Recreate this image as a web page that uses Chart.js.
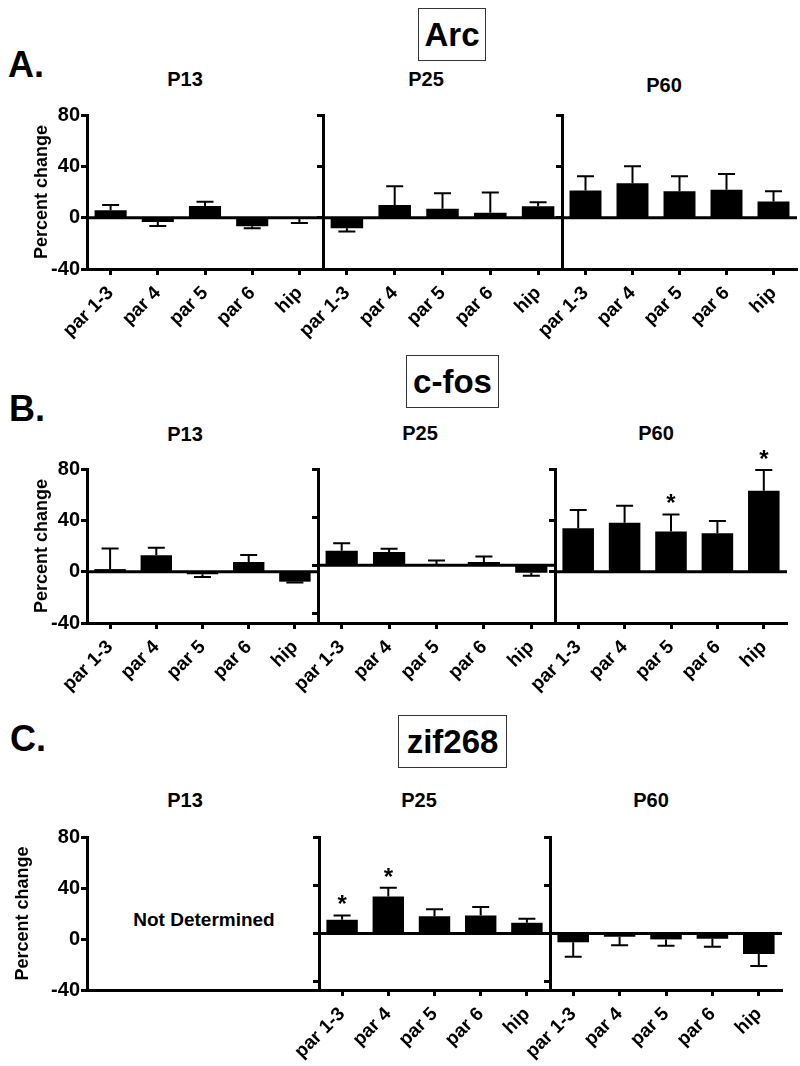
<!DOCTYPE html>
<html>
<head>
<meta charset="utf-8">
<script src="https://cdn.jsdelivr.net/npm/chart.js@4.4.1/dist/chart.umd.min.js"></script>
<style>
  body { margin: 0; background: #fff; }
  #fig { position: relative; width: 800px; height: 1066px; font-family: "Liberation Sans", Arial, sans-serif; font-weight: bold; color: #000; overflow: hidden; }
  .lbl { position: absolute; transform: translate(-50%, -50%); line-height: 1; white-space: nowrap; }
  .gene { position: absolute; border: 1px solid #333; box-sizing: border-box; display: flex; align-items: center; justify-content: center; font-size: 33px; line-height: 1; }
  canvas { position: absolute; }
</style>
</head>
<body>
<div id="fig">
  <div class="lbl" style="left:26px;top:65px;font-size:36px">A.</div>
  <div class="lbl" style="left:27px;top:409px;font-size:36px">B.</div>
  <div class="lbl" style="left:28px;top:739px;font-size:36px">C.</div>

  <div class="gene" style="left:418px;top:8px;width:68px;height:53px">Arc</div>
  <div class="gene" style="left:406px;top:355px;width:93px;height:53px">c-fos</div>
  <div class="gene" style="left:398px;top:715px;width:109px;height:53px">zif268</div>

  <div class="lbl" style="left:185px;top:79px;font-size:20px">P13</div>
  <div class="lbl" style="left:426px;top:79px;font-size:20px">P25</div>
  <div class="lbl" style="left:664px;top:85px;font-size:20px">P60</div>
  <div class="lbl" style="left:185px;top:434px;font-size:20px">P13</div>
  <div class="lbl" style="left:420px;top:433px;font-size:20px">P25</div>
  <div class="lbl" style="left:656px;top:433px;font-size:20px">P60</div>
  <div class="lbl" style="left:185px;top:800px;font-size:20px">P13</div>
  <div class="lbl" style="left:419px;top:800px;font-size:20px">P25</div>
  <div class="lbl" style="left:651px;top:800px;font-size:20px">P60</div>

  <div class="lbl" style="left:204px;top:919px;font-size:19px">Not Determined</div>
</div>
<script>
var regions = ['par 1-3', 'par 4', 'par 5', 'par 6', 'hip'];
var yTicks = [-40, 0, 40, 80];

// Arc
var arcP13 = [5.7, -3.4, 9, -6.7, -1];
var arcP13Err = [4.1, 3.1, 3.4, 1.6, 3.1];
var arcP25 = [-8.3, 9.8, 7, 3.9, 8.8];
var arcP25Err = [2.5, 14.7, 12, 15.7, 3.3];
var arcP60 = [21.2, 26.8, 20.6, 21.7, 12.6];
var arcP60Err = [11.1, 13.2, 11.7, 12.3, 8];

// c-fos
var cfosP13 = [2, 12.7, -2, 7.5, -7.8];
var cfosP13Err = [16, 5.9, 2.1, 5.4, 0.7];
var cfosP25 = [12.1, 11, 0.5, 2.8, -6.3];
var cfosP25Err = [6.1, 2.8, 3.4, 4.4, 2.5];
var cfosP60 = [33.8, 38.2, 31.3, 30, 63];
var cfosP60Err = [14.2, 13.1, 13.3, 9.5, 16.2];
var cfosP60Sig = [false, false, true, false, true];

// zif268 (P13 not determined)
var zifP25 = [11.3, 30.6, 14.3, 14.9, 8.8];
var zifP25Err = [3.6, 7.2, 5.8, 6.9, 3.3];
var zifP25Sig = [true, true, false, false, false];
var zifP60 = [-7.4, -2.8, -5, -4.4, -17.1];
var zifP60Err = [11.9, 7.1, 5.2, 6.6, 9.9];

var FONT = "'Liberation Sans', Arial, sans-serif";
Chart.defaults.font.family = FONT;

var rows = [
  { top: 115, bottom: 269, titlePad: 31, panels: [
    { left: 87, right: 323, min: -40, values: arcP13, errors: arcP13Err },
    { left: 323, right: 562, min: -40, values: arcP25, errors: arcP25Err },
    { left: 562, right: 797, min: -40, values: arcP60, errors: arcP60Err }
  ]},
  { top: 469, bottom: 623, titlePad: 31, panels: [
    { left: 87, right: 318, min: -40, values: cfosP13, errors: cfosP13Err },
    { left: 318, right: 555, min: -48, values: cfosP25, errors: cfosP25Err },
    { left: 555, right: 787, min: -40, values: cfosP60, errors: cfosP60Err, sig: cfosP60Sig }
  ]},
  { top: 837, bottom: 990, titlePad: 12, panels: [
    { left: 87, right: 319, min: -40, values: null, errors: null },
    { left: 319, right: 550, min: -47, values: zifP25, errors: zifP25Err, sig: zifP25Sig },
    { left: 550, right: 782, min: -47, values: zifP60, errors: zifP60Err }
  ]}
];

function overlay(p) {
  return {
    id: 'overlay',
    afterDatasetsDraw: function (chart) {
      if (!p.values) return;
      var ctx = chart.ctx, ys = chart.scales.y, area = chart.chartArea;
      ctx.save();
      ctx.strokeStyle = '#000';
      ctx.fillStyle = '#000';
      ctx.lineWidth = 3;
      var y0 = ys.getPixelForValue(0);
      ctx.beginPath();
      ctx.moveTo(area.left, y0);
      ctx.lineTo(area.right, y0);
      ctx.stroke();
      ctx.lineWidth = 2;
      chart.getDatasetMeta(0).data.forEach(function (bar, i) {
        var v = p.values[i];
        var end = v + (v < 0 ? -1 : 1) * p.errors[i];
        var ye = ys.getPixelForValue(end);
        ctx.beginPath();
        ctx.moveTo(bar.x, bar.y);
        ctx.lineTo(bar.x, ye);
        ctx.moveTo(bar.x - 8.5, ye);
        ctx.lineTo(bar.x + 8.5, ye);
        ctx.stroke();
        if (p.sig && p.sig[i]) {
          ctx.font = 'bold 24px ' + FONT;
          ctx.textAlign = 'center';
          ctx.textBaseline = 'alphabetic';
          ctx.fillText('*', bar.x, ye - 3);
        }
      });
      ctx.restore();
    }
  };
}

var fig = document.getElementById('fig');

rows.forEach(function (row) {
  row.panels.forEach(function (p, idx) {
    var first = idx === 0;
    var yW = first ? p.left : 30, padT = 50, padR = 20, xH = 75;
    var hasData = !!p.values;
    var cv = document.createElement('canvas');
    cv.width = yW + (p.right - p.left) + padR;
    cv.height = padT + (row.bottom - row.top) + xH;
    cv.style.left = (p.left - yW) + 'px';
    cv.style.top = (row.top - padT) + 'px';
    fig.appendChild(cv);

    new Chart(cv, {
      type: 'bar',
      data: {
        labels: regions,
        datasets: hasData ? [{
          data: p.values,
          backgroundColor: '#000',
          borderWidth: 0,
          barPercentage: 0.68,
          categoryPercentage: 1
        }] : []
      },
      options: {
        responsive: false,
        animation: false,
        layout: { padding: { top: padT, right: padR, left: 0, bottom: 0 } },
        plugins: { legend: { display: false }, tooltip: { enabled: false } },
        scales: {
          x: {
            grid: { display: true, drawOnChartArea: false, drawTicks: hasData, tickLength: 6, tickWidth: 3, color: '#000', offset: false },
            border: { display: true, width: 3, color: '#000' },
            ticks: { display: hasData, color: '#000', font: { size: 19, weight: 'bold' }, minRotation: 45, maxRotation: 45, padding: 7 },
            afterFit: function (s) { s.height = xH; s.paddingLeft = 0; s.paddingRight = 0; }
          },
          y: {
            min: p.min,
            max: 80,
            afterBuildTicks: function (s) { s.ticks = yTicks.map(function (v) { return { value: v }; }); },
            grid: { drawOnChartArea: false, drawTicks: true, tickLength: 6, tickWidth: 3, color: '#000' },
            border: { display: true, width: 3, color: '#000' },
            ticks: { display: first, color: '#000', font: { size: 20, weight: 'bold' }, padding: 1 },
            title: { display: first, text: 'Percent change', color: '#000', font: { size: 18, weight: 'bold' }, padding: { top: row.titlePad, bottom: 0 } },
            afterFit: function (s) { s.width = yW; s.paddingTop = 0; s.paddingBottom = 0; }
          }
        }
      },
      plugins: [overlay(p)]
    });
  });
});
</script>
</body>
</html>
